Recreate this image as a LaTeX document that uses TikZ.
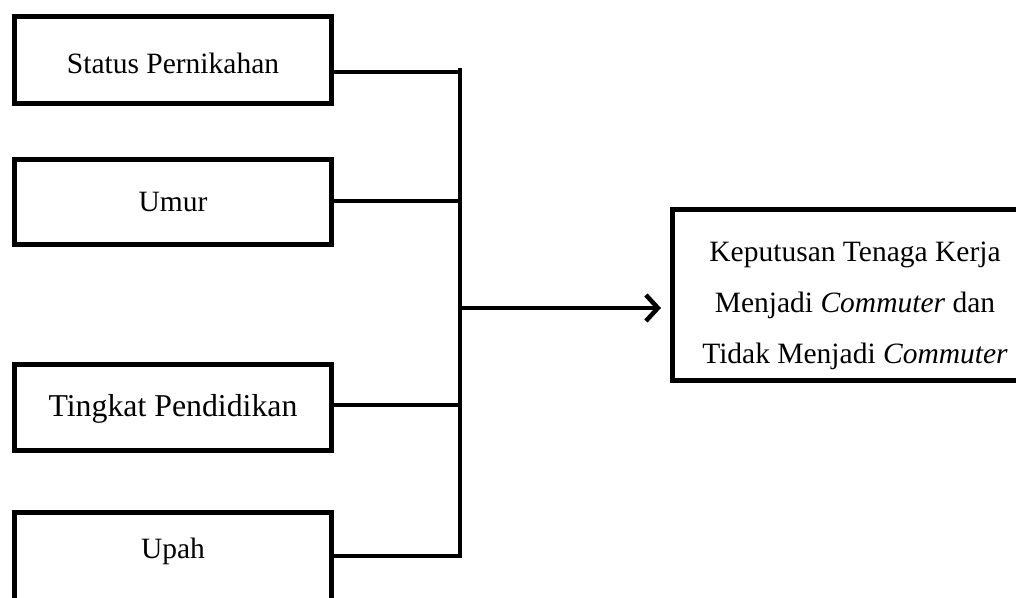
\documentclass[tikz,border=0pt]{standalone}
\usepackage{fontspec}
\setmainfont{Liberation Serif}
\usetikzlibrary{arrows.meta}
\tikzset{
  factor/.style={draw=black, line width=5pt, rectangle, inner sep=0pt,
    minimum width=317pt, align=center, font=\fontsize{29.5}{36}\selectfont},
  conn/.style={draw=black, line width=4.5pt},
}
\begin{document}
\begin{tikzpicture}[x=1pt,y=-1pt]
\clip (0,0) rectangle (1016,597);
\fill[white] (0,0) rectangle (1016,597);
% factor boxes
\node[factor, minimum height=87pt] (b1) at (173,60) {};
\node[font=\fontsize{29.5}{36}\selectfont, inner sep=0pt] (b1t) at (173,63) {Status Pernikahan};
\node[factor, minimum height=85pt] (b2) at (173,202) {Umur};
\node[factor, minimum height=86pt] (b3) at (173,407.5) {};
\node[font=\fontsize{31.8}{38}\selectfont, inner sep=0pt] (b3t) at (173,409) {Tingkat Pendidikan};
\node[factor, minimum height=170pt] (b4) at (173,597) {};
\node[font=\fontsize{29.5}{36}\selectfont, inner sep=0pt] (b4t) at (173,551) {Upah};
% outcome box
\node[draw=black, line width=5pt, rectangle, inner sep=0pt, minimum width=365pt,
      minimum height=171pt] (rb) at (855,295) {};
\node[align=center, inner sep=0pt, font=\fontsize{29.5}{51}\selectfont] (rbt) at (855,306)
  {Keputusan Tenaga Kerja\\Menjadi \textit{Commuter} dan\\Tidak Menjadi \textit{Commuter}};
% junction points
\coordinate (top) at (460,68);
\coordinate (bot) at (460,558);
\coordinate (j1) at (460,72);
\coordinate (j2) at (460,201);
\coordinate (j3) at (460,405);
\coordinate (j4) at (460,556);
\coordinate (ja) at (460,308);
\draw[conn] (top) -- (bot);
\draw[conn] (b1.east |- j1) -- (j1);
\draw[conn] (b2.east |- j2) -- (j2);
\draw[conn] (b3.east |- j3) -- (j3);
\draw[conn] (b4.east |- j4) -- (j4);
\draw[conn, -{Straight Barb[length=12pt,width=26pt,line width=4.5pt]}, shorten >=9pt] (ja) -- (rb.west |- ja);
\end{tikzpicture}
\end{document}
